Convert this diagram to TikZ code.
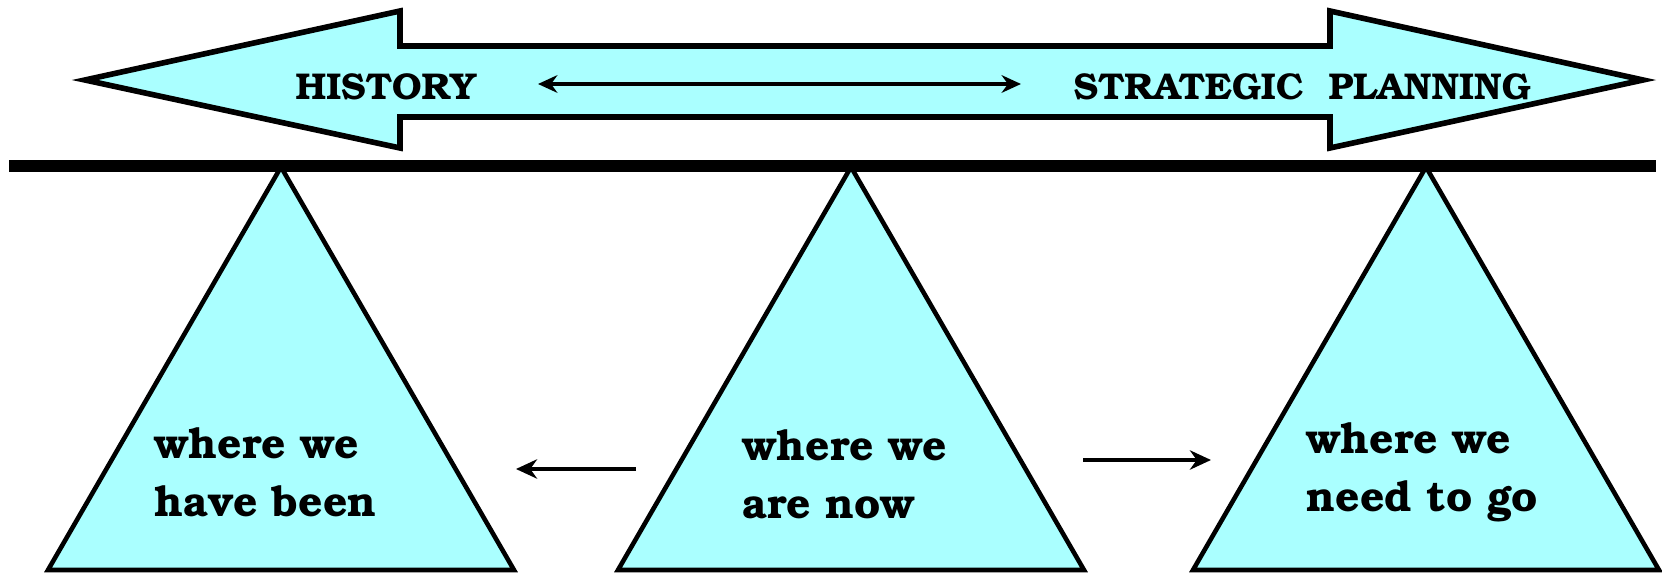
\documentclass[tikz,border=0pt]{standalone}
\usepackage[T1]{fontenc}
\usepackage{bookman}
\usepackage{xcolor}
\usetikzlibrary{arrows.meta,positioning}
\definecolor{skycyan}{HTML}{AAFFFF}

\begin{document}
\begin{tikzpicture}[x=0.01cm,y=-0.01cm,>=Stealth,font=\bfseries]
\tikzset{
  shape fill/.style={draw=black,fill=skycyan,line width=1.3pt,line join=miter},
  bigtitle/.style={anchor=base west,inner sep=0pt,font=\bfseries\fontsize{10.6}{12}\selectfont},
  place/.style={anchor=base west,inner sep=0pt,align=left,font=\bfseries\fontsize{12.1}{16.6}\selectfont},
  move/.style={->,line width=1.2pt,>={Stealth[length=6pt,width=5.5pt]}}
}
\useasboundingbox (0,0) rectangle (1662,573);
% double headed band
\draw[shape fill,line width=1.6pt] (85,80) -- (400,11) -- (400,46) -- (1330,46) -- (1330,11)
  -- (1643,80) -- (1330,148) -- (1330,117) -- (400,117) -- (400,148) -- cycle;
\node[bigtitle] (hist) at (295,100) {HISTORY};
\node[bigtitle] (plan) at (1073,100) {STRATEGIC\ \ PLANNING};
\coordinate (span l) at (538,84); \coordinate (span r) at (1021,84);
\draw[<->,line width=1.1pt,>={Stealth[length=5.5pt,width=5pt]}] (span l) -- (span r);
% the beam
\draw[line width=3.6pt] (9,166) -- (1656,166);
% three supports
\foreach \ax in {281,851,1426}
  \draw[shape fill] (\ax,167) -- (\ax+233,570) -- (\ax-233,570) -- cycle;
\node[place] (been) at (154,517) {where we\\have been};
\node[place] (now) at (742,519) {where we\\are now};
\node[place] (next) at (1306,512) {where we\\need to go};
\coordinate (back s) at (636,469); \coordinate (back e) at (516,469);
\coordinate (fwd s) at (1083,460); \coordinate (fwd e) at (1211,460);
\draw[move] (back s) -- (back e);
\draw[move] (fwd s) -- (fwd e);
\end{tikzpicture}
\end{document}
